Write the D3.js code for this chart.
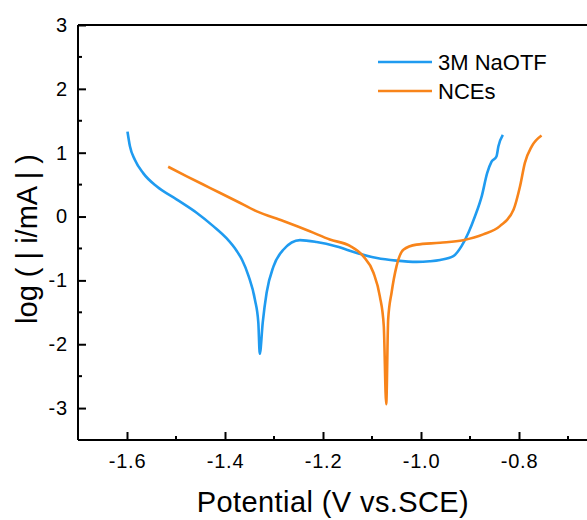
<!DOCTYPE html>
<html>
<head>
<meta charset="utf-8">
<script src="https://cdn.jsdelivr.net/npm/d3@7"></script>
<style>
  html, body { margin: 0; padding: 0; background: #fff; }
  svg { display: block; font-family: "Liberation Sans", Arial, sans-serif; }
</style>
</head>
<body>
<svg id="chart" width="587" height="520"></svg>
<script>
// ---- data ----
const seriesNames = ["3M NaOTF", "NCEs"];
const naotfPotential = [-1.599, -1.594, -1.584, -1.567, -1.539, -1.499, -1.458, -1.424, -1.397, -1.376, -1.365, -1.352, -1.339, -1.332, -1.329, -1.323, -1.315, -1.301, -1.281, -1.247, -1.213, -1.172, -1.131, -1.090, -1.050, -1.009, -0.982, -0.961, -0.934, -0.917, -0.903, -0.890, -0.876, -0.865, -0.856, -0.846, -0.842, -0.833];
const naotfLogI = [1.33, 1.10, 0.89, 0.68, 0.47, 0.27, 0.06, -0.15, -0.34, -0.54, -0.68, -0.93, -1.30, -1.66, -2.15, -1.66, -1.19, -0.78, -0.52, -0.37, -0.40, -0.47, -0.57, -0.65, -0.69, -0.71, -0.70, -0.68, -0.62, -0.46, -0.25, 0.00, 0.32, 0.68, 0.86, 0.94, 1.10, 1.28];
const ncePotential = [-1.516, -1.478, -1.431, -1.376, -1.335, -1.281, -1.227, -1.186, -1.145, -1.118, -1.097, -1.084, -1.076, -1.071, -1.067, -1.060, -1.050, -1.036, -1.009, -0.961, -0.914, -0.873, -0.839, -0.811, -0.798, -0.788, -0.774, -0.754];
const nceLogI = [0.78, 0.63, 0.45, 0.24, 0.08, -0.07, -0.23, -0.36, -0.46, -0.62, -0.88, -1.25, -1.71, -2.94, -1.61, -1.19, -0.78, -0.52, -0.44, -0.41, -0.37, -0.28, -0.15, 0.11, 0.47, 0.84, 1.10, 1.27];
const xTicks = [-1.6, -1.4, -1.2, -1.0, -0.8];
const xMinorTicks = [-1.5, -1.3, -1.1, -0.9, -0.7];
const yTicks = [-3, -2, -1, 0, 1, 2, 3];
const yMinorTicks = [-2.5, -1.5, -0.5, 0.5, 1.5, 2.5];
const colors = ["#1f9bf0", "#f8841a"];

// ---- layout ----
const svg = d3.select("#chart");
const mLeft = 78, mTop = 25, mBottom = 440;
const x = d3.scaleLinear().domain([-1.7, -0.65]).range([mLeft, mLeft + 1.05 * 490]);
const y = d3.scaleLinear().domain([-3.5, 3]).range([mBottom, mTop]);

// curves
const line = d3.line().x(d => x(d[0])).y(d => y(d[1])).curve(d3.curveMonotoneX);
const series = [
  d3.zip(naotfPotential, naotfLogI),
  d3.zip(ncePotential, nceLogI)
];
series.forEach((s, i) => {
  svg.append("path").datum(s)
    .attr("d", line)
    .attr("fill", "none")
    .attr("stroke", colors[i])
    .attr("stroke-width", 2.6)
    .attr("stroke-linejoin", "round");
});

// axes
const fmtX = d => d3.format(".1f")(d).replace("−", "-");
const xAxis = d3.axisBottom(x).tickValues(xTicks).tickSize(-8).tickPadding(14).tickFormat(fmtX);
const gx = svg.append("g").attr("transform", `translate(0,${mBottom})`).call(xAxis);
const yAxis = d3.axisLeft(y).tickValues(yTicks).tickSize(-8).tickPadding(10).tickFormat(d => String(d));
const gy = svg.append("g").attr("transform", `translate(${mLeft},0)`).call(yAxis);
[gx, gy].forEach(g => {
  g.select(".domain").attr("stroke", "#000").attr("stroke-width", 2);
  g.selectAll(".tick line").attr("stroke", "#000").attr("stroke-width", 2);
  g.selectAll(".tick text").attr("font-size", 20).attr("fill", "#000")
    .attr("letter-spacing", 0.8)
    .attr("font-family", "'Liberation Sans', Arial, sans-serif");
});
gx.select(".domain").attr("d", `M${mLeft},0H587`);
gy.select(".domain").attr("d", `M0,${mTop}V${mBottom}`);

// minor ticks
svg.append("g").selectAll("line").data(xMinorTicks).join("line")
  .attr("x1", d => x(d)).attr("x2", d => x(d))
  .attr("y1", mBottom).attr("y2", mBottom - 4)
  .attr("stroke", "#000").attr("stroke-width", 2);
svg.append("g").selectAll("line").data(yMinorTicks).join("line")
  .attr("x1", mLeft).attr("x2", mLeft + 4)
  .attr("y1", d => y(d)).attr("y2", d => y(d))
  .attr("stroke", "#000").attr("stroke-width", 2);

// top frame line
svg.append("line").attr("x1", mLeft).attr("x2", 587).attr("y1", y(3)).attr("y2", y(3))
  .attr("stroke", "#000").attr("stroke-width", 2);

// axis titles
svg.append("text").attr("x", 333).attr("y", 512).attr("text-anchor", "middle")
  .attr("font-size", 29).attr("letter-spacing", 0.4).attr("fill", "#000").text("Potential (V vs.SCE)");
svg.append("text").attr("transform", "translate(37,239) rotate(-90)").attr("text-anchor", "middle")
  .attr("font-size", 29).attr("fill", "#000").text("log ( | i/mA | )");

// legend
const legendY = [62, 91];
seriesNames.forEach((name, i) => {
  svg.append("line").attr("x1", 378).attr("x2", 432).attr("y1", legendY[i]).attr("y2", legendY[i])
    .attr("stroke", colors[i]).attr("stroke-width", 2.4);
  svg.append("text").attr("x", 438).attr("y", legendY[i] + 7.5)
    .attr("font-size", 22).attr("fill", "#000").text(name);
});
</script>
</body>
</html>
